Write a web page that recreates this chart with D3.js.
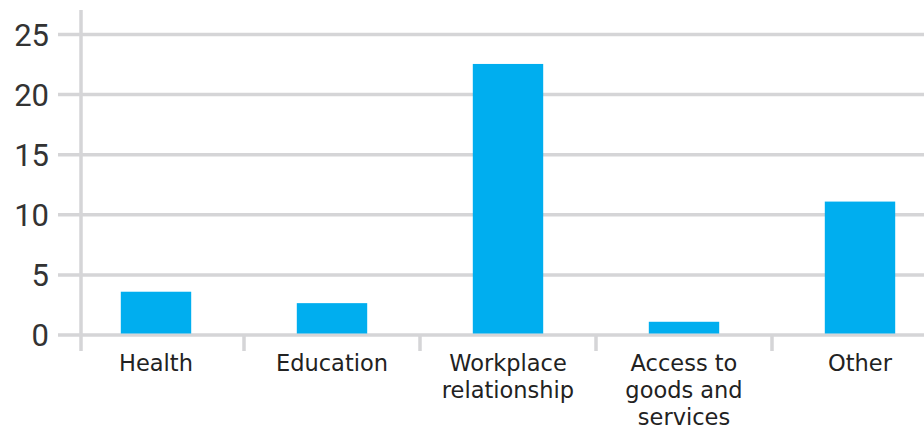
<!DOCTYPE html>
<html>
<head>
<meta charset="utf-8">
<script src="https://cdn.jsdelivr.net/npm/d3@7"></script>
<style>
  body { margin: 0; background: #fff; }
</style>
</head>
<body>
<script>
const categories = ['Health', 'Education', 'Workplace relationship', 'Access to goods and services', 'Other'];
const labelLines = [['Health'], ['Education'], ['Workplace', 'relationship'], ['Access to', 'goods and', 'services'], ['Other']];
const values = [3.6, 2.65, 22.55, 1.1, 11.1];
const yTicks = [0, 5, 10, 15, 20, 25];

const width = 924, height = 430;
const svg = d3.select('body').append('svg').attr('width', width).attr('height', height);

const x = d3.scaleBand().domain(categories).range([68, 948]).paddingInner(0.6).paddingOuter(0.3);
const y = d3.scaleLinear().domain([0, 25]).range([335, 34.5]);

// gridlines
svg.append('g').selectAll('line').data(yTicks).join('line')
  .attr('x1', 58).attr('x2', width)
  .attr('y1', d => y(d)).attr('y2', d => y(d))
  .attr('stroke', '#d5d5d7').attr('stroke-width', 3.5);

// y axis line
svg.append('line').attr('x1', 81).attr('x2', 81).attr('y1', 10).attr('y2', 351)
  .attr('stroke', '#d5d5d7').attr('stroke-width', 3.5);

// category separators
const step = x.step();
svg.append('g').selectAll('line').data(categories.slice(1)).join('line')
  .attr('x1', d => x(d) - x.paddingInner() * step / 2)
  .attr('x2', d => x(d) - x.paddingInner() * step / 2)
  .attr('y1', 335).attr('y2', 351)
  .attr('stroke', '#d5d5d7').attr('stroke-width', 3.5);

// y tick labels
svg.append('g').selectAll('text').data(yTicks).join('text')
  .attr('x', 49).attr('y', d => y(d))
  .attr('dy', '0.36em')
  .attr('text-anchor', 'end')
  .attr('font-family', 'Roboto, sans-serif')
  .attr('font-size', 31)
  .attr('fill', '#333')
  .text(d => d);

// bars
svg.append('g').selectAll('rect').data(values).join('rect')
  .attr('x', (d, i) => x(categories[i]))
  .attr('width', x.bandwidth())
  .attr('y', d => y(d))
  .attr('height', d => y(0) - y(d) - 1.5)
  .attr('fill', '#00aeef');

// category labels, one text per line
const lines = categories.flatMap((c, i) => labelLines[i].map((t, j) => ({ c, t, j })));
svg.append('g').selectAll('text').data(lines).join('text')
  .attr('x', d => x(d.c) + x.bandwidth() / 2)
  .attr('y', d => 371 + d.j * 27)
  .attr('text-anchor', 'middle')
  .attr('font-family', '"DejaVu Sans", sans-serif')
  .attr('font-size', 22.5)
  .attr('fill', '#222')
  .text(d => d.t);
</script>
</body>
</html>
